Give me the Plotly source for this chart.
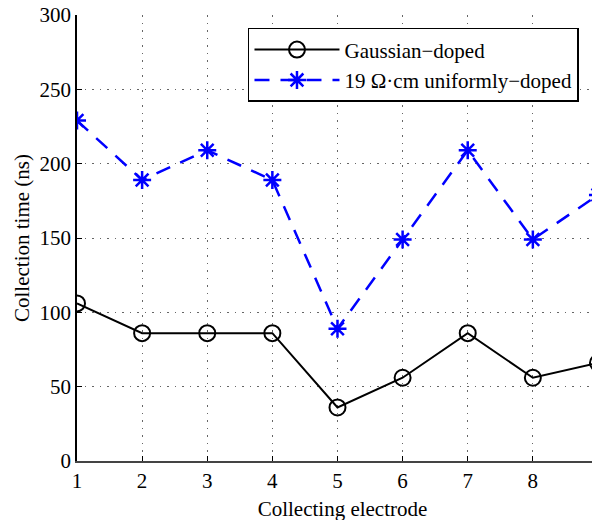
import plotly.graph_objects as go

electrodes = [1, 2, 3, 4, 5, 6, 7, 8, 9]
gaussian = [106, 86, 86, 86, 36, 56, 86, 56, 66]
uniform = [229, 189, 209, 189, 89, 149, 209, 149, 179]
y_ticks = [0, 50, 100, 150, 200, 250, 300]

FONT = "Liberation Serif"
F21 = dict(family=FONT, size=21, color="black")

fig = go.Figure()
fig.add_trace(go.Scatter(
    x=electrodes, y=gaussian, mode="lines+markers", name="Gaussian\u2212doped",
    line=dict(color="black", width=2),
    marker=dict(symbol="circle-open", size=16, color="black", line=dict(width=2)),
))
fig.add_trace(go.Scatter(
    x=electrodes, y=uniform, mode="lines+markers", name="19 \u03a9\u00b7cm uniformly\u2212doped",
    line=dict(color="#0000ff", width=2.5, dash="15px,11px"),
    marker=dict(symbol="asterisk-open", size=15, color="#0000ff", line=dict(width=2.5, color="#0000ff")),
))

GRID = dict(showgrid=True, gridcolor="#666666", griddash="1.5px,6px", gridwidth=1)

fig.update_layout(
    template="none",
    width=600, height=520,
    margin=dict(l=69, r=0, t=7, b=67, autoexpand=False),
    paper_bgcolor="white", plot_bgcolor="white",
    font=F21,
    showlegend=True,
    legend=dict(
        x=0.322, y=0.971, xanchor="left", yanchor="top",
        bordercolor="black", borderwidth=1.5, bgcolor="white",
        font=F21, itemwidth=85, tracegroupgap=0,
    ),
)
fig.update_xaxes(
    range=[1, 9.154], tickvals=electrodes, ticks="inside", ticklen=5, tickcolor="black",
    showline=True, linecolor="#444444", linewidth=2,
    zeroline=False, title=dict(text="Collecting electrode", font=F21, standoff=9),
    tickfont=F21, automargin=False, ticklabeloverflow="allow", **GRID,
)
fig.update_yaxes(
    range=[0, 300], tickvals=y_ticks, ticks="inside", ticklen=5, tickcolor="black",
    showline=True, linecolor="black", linewidth=1.5,
    zeroline=False, title=dict(text="Collection time (ns)", font=F21, standoff=4),
    tickfont=F21, automargin=False, ticklabeloverflow="allow", **GRID,
)

fig.write_html("out.html")
